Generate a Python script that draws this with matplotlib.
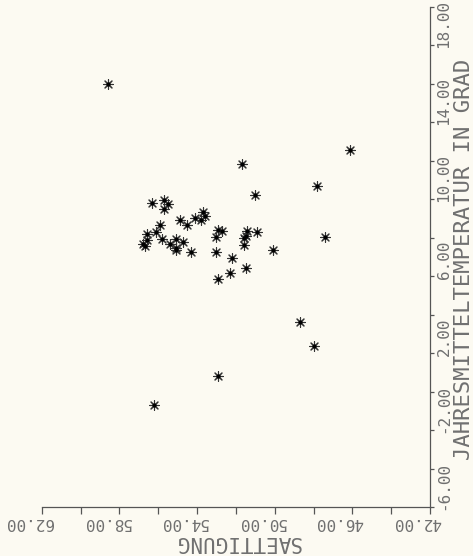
import numpy as np
import matplotlib.pyplot as plt

# values (x: SAETTIGUNG, y: JAHRESMITTELTEMPERATUR IN GRAD)
saettigung = [58.6, 51.7, 46.1, 47.8, 51.0, 56.3, 55.7, 55.5, 55.7, 54.9,
              54.5, 54.1, 53.8, 53.7, 53.6, 55.9, 56.1, 56.6, 56.6, 56.8,
              56.7, 55.8, 55.1, 54.7, 55.4, 55.1, 55.1, 54.3, 52.9, 52.7,
              53.0, 51.4, 51.5, 51.6, 50.9, 51.6, 50.1, 53.0, 52.2, 51.5,
              52.3, 52.9, 48.7, 47.4, 48.0, 52.9, 56.2]
temperatur = [15.95, 11.84, 12.53, 10.66, 10.23, 9.81, 9.97, 9.72, 9.50, 8.93,
              8.63, 9.03, 8.93, 9.32, 9.12, 8.67, 8.26, 8.17, 7.89, 7.65,
              7.54, 7.91, 7.94, 7.75, 7.65, 7.34, 7.46, 7.23, 8.41, 8.34,
              8.03, 8.34, 8.06, 8.00, 8.26, 7.63, 7.34, 7.25, 6.92, 6.42,
              6.13, 5.82, 3.60, 8.03, 2.37, 0.80, -0.71]

x_ticks = np.arange(42, 63, 2)
x_labels = [62, 58, 54, 50, 46, 42]
y_ticks = np.arange(-6, 21, 2)
y_labels = [-6, -2, 2, 6, 10, 14, 18]

BG = '#fcfaf2'
AX = '#555555'
TXT = '#707070'
MONO = ['DejaVu Sans Mono']

fig = plt.figure(figsize=(4.73, 5.56), dpi=100, facecolor=BG)
ax = fig.add_axes([41.7/473, 49/556, 388.3/473, 500.5/556])
ax.set_facecolor(BG)
ax.set_xlim(62, 42)
ax.set_ylim(-6, 20)

for s in ('top', 'left'):
    ax.spines[s].set_visible(False)
for s in ('bottom', 'right'):
    ax.spines[s].set_color(AX)
    ax.spines[s].set_linewidth(0.9)

ax.yaxis.tick_right()
ax.set_xticks(x_ticks)
ax.set_yticks(y_ticks)
ax.tick_params(axis='x', direction='out', length=5, width=0.9, color=AX,
               labelbottom=False)
ax.tick_params(axis='y', direction='out', length=3.2, width=0.9, color=AX,
               labelright=False, labelleft=False)

# tick labels, placed like the plotter did
for v in x_labels:
    ax.annotate(f'{v:.2f}', xy=(v, 0), xycoords=('data', 'axes fraction'),
                xytext=(-13, -15.5), textcoords='offset pixels',
                rotation=180, ha='center', va='center',
                fontsize=11.5, family=MONO, color=TXT)
for v in y_labels:
    ax.annotate(f'{v:.2f}', xy=(1, v), xycoords=('axes fraction', 'data'),
                xytext=(14, -3), textcoords='offset pixels',
                rotation=90, ha='center', va='bottom',
                fontsize=11.5, family=MONO, color=TXT)

fig.text(237.5/473, 1 - 542/556, 'SAETTIGUNG', rotation=180,
         ha='center', va='center', fontsize=15, family=MONO, color=TXT)
fig.text(463.5/473, 1 - 259/556, 'JAHRESMITTELTEMPERATUR IN GRAD', rotation=90,
         ha='center', va='center', fontsize=16, family=MONO, color=TXT)

# asterisk markers with a dark centre
ax.scatter(saettigung, temperatur, marker=(8, 2, 0), s=50, linewidths=0.8,
           color='#333333', zorder=3)
ax.scatter(saettigung, temperatur, marker='o', s=9, color='black',
           linewidths=0, zorder=4)

fig.savefig('out.png', dpi=100, facecolor=BG)
